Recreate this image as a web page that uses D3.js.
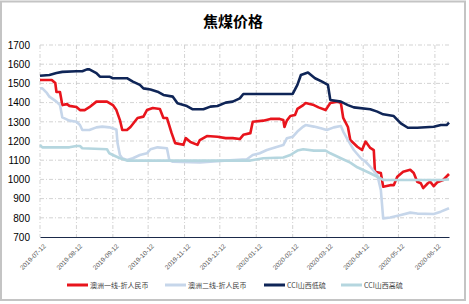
<!DOCTYPE html>
<html>
<head>
<meta charset="utf-8">
<script src="https://cdn.jsdelivr.net/npm/d3@7"></script>
<style>
  body { margin: 0; background: #fff; }
  svg { display: block; font-family: "Liberation Sans", Arial, sans-serif; }
</style>
</head>
<body>
<div id="chart"></div>
<script>
// series names + colours (legend order = draw order)
var seriesNames = ["澳洲一线-折人民币", "澳洲二线-折人民币", "CCI山西低硫", "CCI山西高硫"];
var seriesColors = ["#e8141c", "#c6d6ea", "#0f2557", "#b5d6df"];

var yTicks = [700, 800, 900, 1000, 1100, 1200, 1300, 1400, 1500, 1600, 1700];
var xTickLabels = ["2019-07-12", "2019-08-12", "2019-09-12", "2019-10-12", "2019-11-12", "2019-12-12",
                   "2020-01-12", "2020-02-12", "2020-03-12", "2020-04-12", "2020-05-12", "2020-06-12"];

// values
var aus1 = [["2019-07-12",1518],["2019-07-22",1518],["2019-07-25",1502],["2019-07-26",1455],["2019-07-29",1455],
  ["2019-07-31",1387],["2019-08-04",1392],["2019-08-06",1383],["2019-08-12",1377],["2019-08-15",1361],
  ["2019-08-19",1361],["2019-08-23",1376],["2019-08-29",1405],["2019-09-07",1405],["2019-09-12",1387],
  ["2019-09-15",1361],["2019-09-18",1309],["2019-09-20",1257],["2019-09-24",1257],["2019-09-27",1273],
  ["2019-10-03",1320],["2019-10-08",1327],["2019-10-11",1361],["2019-10-16",1372],["2019-10-22",1367],
  ["2019-10-25",1320],["2019-10-28",1320],["2019-11-01",1241],["2019-11-04",1189],["2019-11-11",1180],
  ["2019-11-13",1215],["2019-11-17",1195],["2019-11-23",1180],["2019-11-25",1205],["2019-12-01",1226],
  ["2019-12-10",1222],["2019-12-17",1215],["2019-12-23",1215],["2019-12-29",1210],["2020-01-01",1232],
  ["2020-01-07",1241],["2020-01-09",1300],["2020-01-18",1306],["2020-01-24",1315],["2020-02-01",1315],
  ["2020-02-04",1310],["2020-02-05",1273],["2020-02-07",1306],["2020-02-10",1330],["2020-02-14",1335],
  ["2020-02-16",1367],["2020-02-21",1387],["2020-02-23",1398],["2020-03-01",1387],["2020-03-05",1375],
  ["2020-03-11",1361],["2020-03-15",1398],["2020-03-21",1405],["2020-03-24",1398],["2020-03-26",1320],
  ["2020-03-30",1273],["2020-04-01",1205],["2020-04-07",1170],["2020-04-11",1153],["2020-04-14",1197],
  ["2020-04-18",1164],["2020-04-21",1153],["2020-04-22",1040],["2020-04-27",1033],["2020-04-29",962],
  ["2020-05-05",970],["2020-05-08",970],["2020-05-11",1014],["2020-05-16",1040],["2020-05-22",1050],
  ["2020-05-25",1033],["2020-05-28",988],["2020-05-31",980],["2020-06-02",955],["2020-06-06",980],
  ["2020-06-08",988],["2020-06-11",965],["2020-06-14",985],["2020-06-19",997],["2020-06-24",1028]];

var aus2 = [["2019-07-12",1474],["2019-07-14",1474],["2019-07-18",1449],["2019-07-20",1431],["2019-07-26",1405],
  ["2019-07-29",1387],["2019-07-31",1323],["2019-08-06",1306],["2019-08-12",1300],["2019-08-15",1283],
  ["2019-08-17",1257],["2019-08-23",1257],["2019-08-29",1271],["2019-09-03",1275],["2019-09-09",1271],
  ["2019-09-15",1260],["2019-09-16",1188],["2019-09-18",1127],["2019-09-20",1110],["2019-09-24",1101],
  ["2019-09-29",1110],["2019-10-05",1127],["2019-10-11",1136],["2019-10-14",1157],["2019-10-20",1167],
  ["2019-10-28",1162],["2019-10-30",1101],["2019-11-02",1092],["2019-11-25",1088],["2019-12-10",1095],
  ["2020-01-04",1105],["2020-01-09",1127],["2020-01-15",1136],["2020-01-21",1153],["2020-01-30",1170],
  ["2020-02-04",1179],["2020-02-07",1214],["2020-02-12",1222],["2020-02-16",1249],["2020-02-21",1275],
  ["2020-02-23",1283],["2020-03-01",1275],["2020-03-07",1266],["2020-03-12",1257],["2020-03-18",1271],
  ["2020-03-24",1278],["2020-03-26",1249],["2020-03-30",1205],["2020-04-04",1153],["2020-04-10",1110],
  ["2020-04-14",1092],["2020-04-18",1066],["2020-04-24",1023],["2020-04-27",945],["2020-04-29",797],
  ["2020-05-05",802],["2020-05-14",815],["2020-05-22",827],["2020-05-28",822],["2020-06-11",820],
  ["2020-06-17",832],["2020-06-24",850]];

var cciLow = [["2019-07-12",1540],["2019-07-20",1544],["2019-07-26",1554],["2019-07-31",1560],["2019-08-12",1563],
  ["2019-08-17",1563],["2019-08-21",1573],["2019-08-23",1573],["2019-08-29",1554],["2019-09-01",1535],
  ["2019-09-09",1535],["2019-09-12",1527],["2019-09-24",1527],["2019-09-29",1509],["2019-10-05",1492],
  ["2019-10-08",1474],["2019-10-14",1468],["2019-10-20",1457],["2019-10-25",1440],["2019-11-02",1431],
  ["2019-11-06",1396],["2019-11-14",1382],["2019-11-19",1365],["2019-11-28",1365],["2019-12-04",1379],
  ["2019-12-10",1382],["2019-12-17",1400],["2019-12-23",1405],["2019-12-29",1422],["2020-01-01",1445],
  ["2020-02-12",1445],["2020-02-16",1492],["2020-02-19",1544],["2020-02-25",1557],["2020-03-02",1527],
  ["2020-03-08",1509],["2020-03-13",1492],["2020-03-15",1414],["2020-03-24",1405],["2020-03-30",1387],
  ["2020-04-04",1375],["2020-04-18",1365],["2020-04-24",1353],["2020-04-29",1339],["2020-05-08",1330],
  ["2020-05-14",1292],["2020-05-20",1269],["2020-05-28",1269],["2020-06-11",1274],["2020-06-17",1283],
  ["2020-06-22",1283],["2020-06-24",1296]];

var cciHigh = [["2019-07-12",1179],["2019-07-14",1167],["2019-08-06",1167],["2019-08-12",1174],["2019-08-15",1174],
  ["2019-08-17",1162],["2019-09-07",1157],["2019-09-09",1136],["2019-09-12",1127],["2019-09-18",1110],
  ["2019-09-24",1098],["2020-01-07",1098],["2020-01-18",1110],["2020-02-04",1114],["2020-02-10",1127],
  ["2020-02-16",1150],["2020-02-21",1157],["2020-03-01",1150],["2020-03-11",1150],["2020-03-15",1136],
  ["2020-03-24",1110],["2020-04-01",1087],["2020-04-07",1063],["2020-04-12",1049],["2020-04-18",1032],
  ["2020-04-24",1014],["2020-04-29",997],["2020-06-18",997],["2020-06-24",1000]];

var allSeries = [aus1, aus2, cciLow, cciHigh];

var W = 469, H = 304;
var margin = {top: 45, right: 20, bottom: 67, left: 40},
    width = 409,
    height = 192;

var parse = d3.timeParse("%Y-%m-%d");

var svg = d3.select("#chart").append("svg")
    .attr("width", W)
    .attr("height", H);

// outer frame
svg.append("rect")
    .attr("x", 1).attr("y", 1.5)
    .attr("width", 464).attr("height", 298.5)
    .attr("fill", "#fff")
    .attr("stroke", "#c4c4c4")
    .attr("stroke-width", 2);

svg.append("text")
    .attr("x", 233)
    .attr("y", 27)
    .attr("text-anchor", "middle")
    .style("font-family", "'Noto Sans CJK SC', sans-serif")
    .style("font-weight", "bold")
    .style("font-size", "15px")
    .attr("fill", "#000")
    .text("焦煤价格");

var g = svg.append("g")
    .attr("transform", "translate(" + margin.left + "," + margin.top + ")");

var x = d3.scaleTime()
    .domain([parse("2019-07-12"), parse("2020-06-24")])
    .range([0, width]);

var y = d3.scaleLinear()
    .domain([700, 1700])
    .range([height, 0]);

// horizontal grid (dash-dot)
g.append("g")
    .selectAll("line")
    .data(yTicks.slice(1))
    .enter().append("line")
    .attr("x1", 0).attr("x2", width)
    .attr("y1", function(d) { return y(d); })
    .attr("y2", function(d) { return y(d); })
    .attr("stroke", "#c8c8c8")
    .attr("stroke-width", 0.8)
    .attr("stroke-dasharray", "4,2,1,2");

// vertical grid at each month tick
g.append("g")
    .selectAll("line")
    .data(xTickLabels)
    .enter().append("line")
    .attr("x1", function(d) { return x(parse(d)); })
    .attr("x2", function(d) { return x(parse(d)); })
    .attr("y1", 0).attr("y2", height)
    .attr("stroke", "#c8c8c8")
    .attr("stroke-width", 0.8)
    .attr("stroke-dasharray", "4,2,1,2");

// y axis labels
var yAxis = g.append("g")
    .call(d3.axisLeft(y).tickValues(yTicks).tickSize(0).tickPadding(10).tickFormat(d3.format("d")));
yAxis.select(".domain").remove();
yAxis.selectAll("text")
    .style("font-size", "10px")
    .attr("fill", "#000");

// x axis
var xAxis = g.append("g")
    .attr("transform", "translate(0," + height + ")")
    .call(d3.axisBottom(x)
      .tickValues(xTickLabels.map(parse))
      .tickSize(0)
      .tickFormat(d3.timeFormat("%Y-%m-%d")));
xAxis.select(".domain")
    .attr("stroke", "#1b2a4a")
    .attr("stroke-width", 1.2);
xAxis.selectAll("text")
    .style("font-size", "6.5px")
    .attr("fill", "#595959")
    .attr("text-anchor", "end")
    .attr("dy", "0.35em")
    .attr("transform", "translate(2,6) rotate(-45)");

// lines
var line = d3.line()
    .x(function(d) { return x(parse(d[0])); })
    .y(function(d) { return y(d[1]); });

allSeries.forEach(function(s, i) {
  g.append("path")
      .datum(s)
      .attr("fill", "none")
      .attr("stroke", seriesColors[i])
      .attr("stroke-width", 2.6)
      .attr("stroke-linejoin", "round")
      .attr("d", line);
});

// legend
var legendX = [67, 165, 264, 341];
var legend = svg.append("g");
seriesNames.forEach(function(name, i) {
  legend.append("line")
      .attr("x1", legendX[i]).attr("x2", legendX[i] + 21)
      .attr("y1", 285).attr("y2", 285)
      .attr("stroke", seriesColors[i])
      .attr("stroke-width", 3);
  legend.append("text")
      .attr("x", legendX[i] + 23)
      .attr("y", 287.5)
      .style("font-family", "'Noto Sans CJK SC', sans-serif")
      .style("font-size", "7px")
      .attr("fill", "#404040")
      .text(name);
});
</script>
</body>
</html>
